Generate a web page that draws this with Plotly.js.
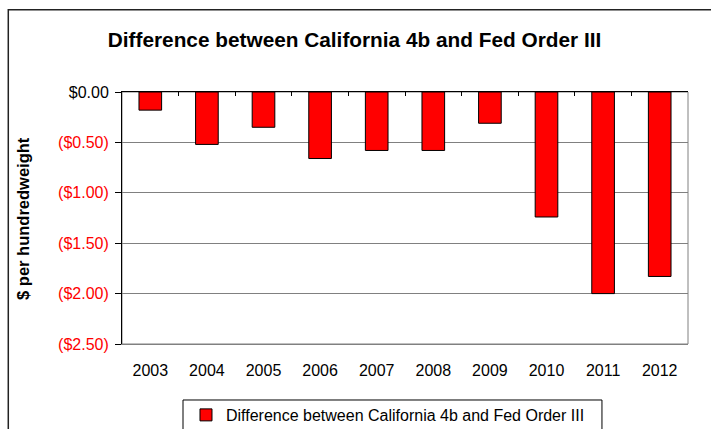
<!DOCTYPE html>
<html>
<head>
<meta charset="utf-8">
<script src="https://cdn.plot.ly/plotly-3.0.1.min.js"></script>
<style>html,body{margin:0;padding:0;background:#fff;}#chart{width:711px;height:429px;}</style>
</head>
<body>
<div id="chart"></div>
<script>
var categories = ['2003','2004','2005','2006','2007','2008','2009','2010','2011','2012'];
var differenceValues = [-0.18, -0.52, -0.35, -0.66, -0.58, -0.58, -0.31, -1.24, -2.00, -1.83];
var seriesName = 'Difference between California 4b and Fed Order III';
var chartTitle = 'Difference between California 4b and Fed Order III';
var yAxisTitle = '$ per hundredweight';
var yTickVals = [0, -0.5, -1.0, -1.5, -2.0, -2.5];
var yTickLabels = ['$0.00', '($0.50)', '($1.00)', '($1.50)', '($2.00)', '($2.50)'];

var FONT = 'Liberation Sans, Arial, Helvetica, sans-serif';
var yTickText = yTickLabels.map(function (t, i) {
  return yTickVals[i] < 0 ? '<span style="color:#ff0000">' + t + '</span>' : t;
});
var boundaryVals = categories.slice(1).map(function (c, i) { return i + 0.5; });

var barTrace = {
  type: 'bar',
  x: categories,
  y: differenceValues,
  name: seriesName,
  width: 0.4,
  marker: { color: '#ff0000', line: { color: '#000000', width: 1 } },
  showlegend: true,
  hoverinfo: 'x+y'
};
// empty helper trace so the top (boundary-tick) axis is drawn
var topAxisTrace = {
  type: 'scatter', mode: 'none', x: [], y: [],
  xaxis: 'x2', yaxis: 'y', showlegend: false, hoverinfo: 'skip'
};

var layout = {
  width: 711,
  height: 429,
  margin: { l: 122, r: 23, t: 92, b: 85, pad: 0 },
  paper_bgcolor: '#ffffff',
  plot_bgcolor: '#ffffff',
  font: { family: FONT, color: '#000000', size: 16 },
  title: {
    text: '<b>' + chartTitle + '</b>',
    font: { family: FONT, size: 20.8, color: '#000000' },
    x: 0.4986, xref: 'container', xanchor: 'center',
    y: 0.907, yref: 'container', yanchor: 'middle'
  },
  showlegend: true,
  legend: {
    orientation: 'h',
    xref: 'container', yref: 'container',
    x: 0.2616, xanchor: 'left',
    y: 0.0723, yanchor: 'top',
    bgcolor: 'rgba(0,0,0,0)',
    borderwidth: 0,
    font: { family: FONT, size: 16, color: '#000000' }
  },
  xaxis: {
    type: 'category',
    range: [-0.5, categories.length - 0.5],
    side: 'bottom',
    showline: true, linecolor: '#808080', linewidth: 1,
    showgrid: false, zeroline: false,
    ticks: '',
    ticklabelstandoff: 12,
    tickfont: { family: FONT, size: 16, color: '#000000' },
    automargin: false,
    fixedrange: true
  },
  xaxis2: {
    overlaying: 'x',
    anchor: 'y',
    side: 'top',
    type: 'linear',
    range: [-0.5, categories.length - 0.5],
    tickmode: 'array',
    tickvals: boundaryVals,
    showticklabels: false,
    ticks: 'inside', ticklen: 4, tickcolor: '#000000', tickwidth: 1,
    showline: true, linecolor: '#000000', linewidth: 1,
    showgrid: false, zeroline: false,
    automargin: false,
    fixedrange: true
  },
  yaxis: {
    range: [-2.5, 0],
    tickmode: 'array',
    tickvals: yTickVals,
    ticktext: yTickText,
    ticks: 'outside', ticklen: 6, tickcolor: '#000000', tickwidth: 1,
    ticklabelstandoff: 3,
    showline: true, linecolor: '#000000', linewidth: 1,
    showgrid: true, gridcolor: '#808080', gridwidth: 1,
    zeroline: false,
    tickfont: { family: FONT, size: 16, color: '#000000' },
    automargin: false,
    fixedrange: true
  },
  shapes: [
    { type: 'rect', xref: 'paper', yref: 'paper', x0: 0, x1: 1, y0: 0, y1: 1,
      line: { color: '#808080', width: 1 }, fillcolor: 'rgba(0,0,0,0)', layer: 'below' },
    { type: 'rect', xref: 'paper', yref: 'paper', x0: -0.2009, x1: 2, y0: -2, y1: 1.3266,
      line: { color: '#222222', width: 1.5 }, fillcolor: 'rgba(0,0,0,0)', layer: 'above' },
    { type: 'rect', xref: 'paper', yref: 'paper', x0: 0.1078, x1: 0.848, y0: -2, y1: -0.2222,
      line: { color: '#000000', width: 1 }, fillcolor: 'rgba(0,0,0,0)', layer: 'above' }
  ],
  annotations: [
    { text: '<b>' + yAxisTitle + '</b>', xref: 'paper', yref: 'paper',
      x: -0.175, y: 0.5, xanchor: 'center', yanchor: 'middle', textangle: -90,
      showarrow: false, font: { family: FONT, size: 16.5, color: '#000000' } }
  ],
  bargap: 0.6
};

Plotly.newPlot('chart', [barTrace, topAxisTrace], layout, { staticPlot: true, displayModeBar: false });
</script>
</body>
</html>
